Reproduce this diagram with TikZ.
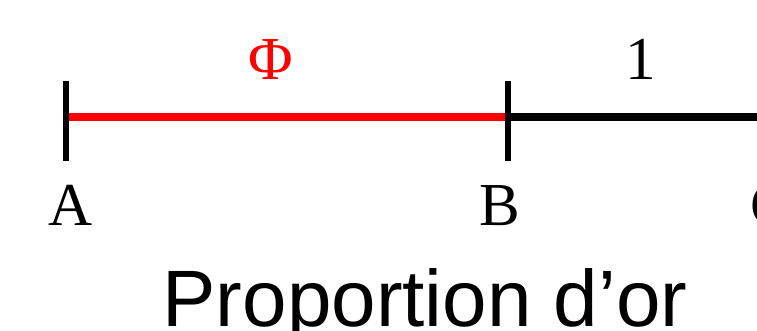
\documentclass[tikz,border=0pt]{standalone}
\usepackage{fontspec}
\setmainfont{Liberation Serif}
\newfontfamily\titlefont{Liberation Sans}
\usetikzlibrary{positioning}

\begin{document}
\begin{tikzpicture}[x=1pt,y=-1pt,
 tick/.style={draw=black,line width=6pt},
 seg/.style={line width=8pt},
 lbl/.style={font=\fontsize{61}{72}\selectfont,inner sep=0pt,anchor=base}
]
\useasboundingbox (0,0) rectangle (757,331);
\clip (0,0) rectangle (757,331);
\coordinate (A) at (66,117);
\coordinate (B) at (508,117);
\coordinate (C) at (774,117);
\draw[seg,red] (A)--(B);
\draw[seg] (B)--(C);
\draw[tick] ([yshift=36pt]A)--([yshift=-44pt]A);
\draw[tick] ([yshift=36pt]B)--([yshift=-44pt]B);
\draw[tick] ([yshift=36pt]C)--([yshift=-44pt]C);
\node[lbl,red] (phi) at (271,80) {Φ};
\node[lbl] (one) at (641,80) {1};
\node[lbl] (labA) at (71,225) {A};
\node[lbl] (labB) at (500,225) {B};
\node[lbl] (labC) at (771,225) {C};
\node[font=\titlefont\fontsize{80}{96}\selectfont,inner sep=0pt,anchor=base] (title) at (425,326) {Proportion d’or};
\end{tikzpicture}
\end{document}
